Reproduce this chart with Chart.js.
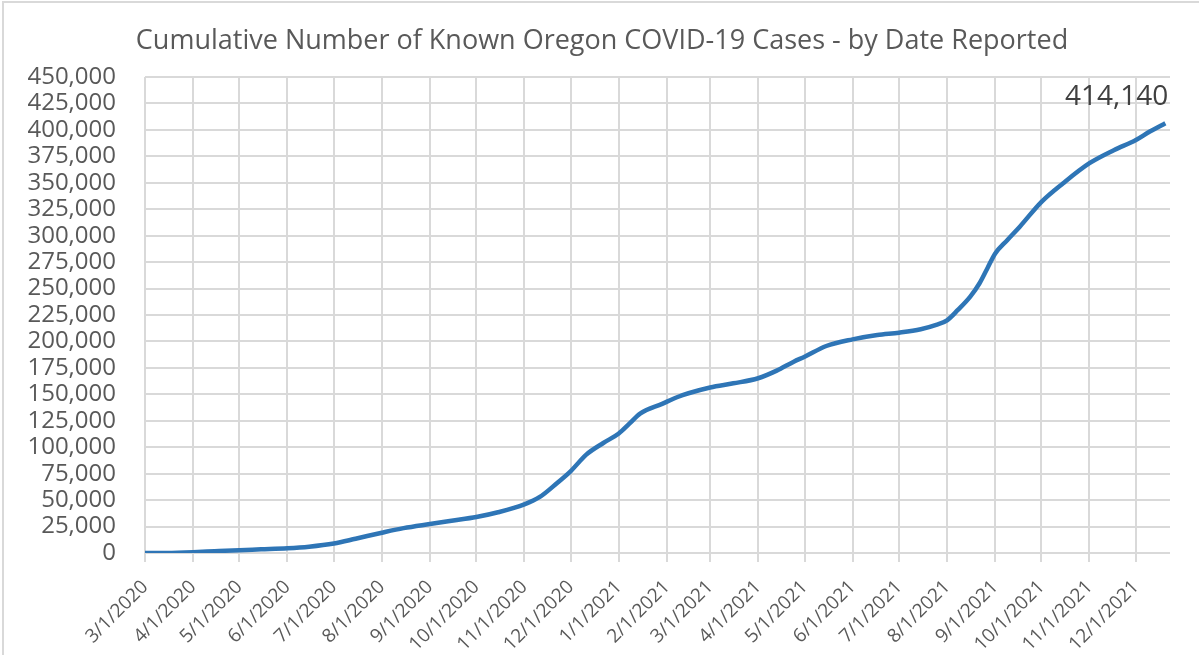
<!DOCTYPE html>
<html>
<head>
<meta charset="utf-8">
<script src="https://cdn.jsdelivr.net/npm/chart.js@4"></script>
<style>
  body { margin: 0; background: #fff; }
  #wrap { position: relative; width: 1199px; height: 655px; overflow: hidden; }
  #frame { position: absolute; left: 2px; top: 1px; width: 1300px; height: 800px;
           border: 2px solid #d9d9d9; pointer-events: none; }
</style>
</head>
<body>
<div id="wrap">
  <canvas id="casesChart" width="1199" height="655"></canvas>
  <div id="frame"></div>
</div>
<script>
// values
const dates = [
  '3/1/2020', '3/15/2020', '4/1/2020', '4/15/2020', '5/1/2020', '5/15/2020',
  '6/1/2020', '6/15/2020', '7/1/2020', '7/15/2020', '8/1/2020', '8/15/2020',
  '9/1/2020', '9/15/2020', '10/1/2020', '10/15/2020', '11/1/2020', '11/11/2020',
  '11/22/2020', '12/1/2020', '12/11/2020', '12/22/2020', '1/1/2021', '1/8/2021',
  '1/15/2021', '1/29/2021', '2/8/2021', '2/15/2021', '3/1/2021', '3/16/2021',
  '4/1/2021', '4/13/2021', '4/24/2021', '5/1/2021', '5/15/2021', '6/1/2021',
  '6/17/2021', '7/1/2021', '7/15/2021', '7/25/2021', '8/1/2021', '8/8/2021',
  '8/16/2021', '8/22/2021', '8/27/2021', '9/1/2021', '9/9/2021', '9/17/2021',
  '10/1/2021', '10/15/2021', '11/1/2021', '11/17/2021', '12/1/2021', '12/10/2021',
  '12/20/2021'
];
const cases = [
  0, 100, 800, 1700, 2700, 3500,
  4500, 6000, 9000, 13500, 19200, 23500,
  27400, 30500, 34000, 38500, 46000, 53000,
  66000, 77500, 93000, 104000, 113000, 122500,
  132000, 141000, 147500, 151000, 156500, 160400,
  165200, 172400, 180900, 185600, 195700, 202000,
  206100, 208300, 211500, 215600, 220000, 229800,
  242400, 255000, 269000, 283000, 296000, 308500,
  332000, 349600, 368500, 381000, 390500, 398500,
  406300
];
const tickLabels = [
  '3/1/2020', '4/1/2020', '5/1/2020', '6/1/2020', '7/1/2020', '8/1/2020',
  '9/1/2020', '10/1/2020', '11/1/2020', '12/1/2020', '1/1/2021', '2/1/2021',
  '3/1/2021', '4/1/2021', '5/1/2021', '6/1/2021', '7/1/2021', '8/1/2021',
  '9/1/2021', '10/1/2021', '11/1/2021', '12/1/2021'
];
const axisEnd = '12/23/2021';
const yMax = 450000;
const yStep = 25000;
const endLabel = '414,140';
const chartTitle = 'Cumulative Number of Known Oregon COVID-19 Cases - by Date Reported';

// days since the first date, so a linear x scale can stand in for a time axis
function dayNumber(s) {
  const [m, d, y] = s.split('/').map(Number);
  const [m0, d0, y0] = dates[0].split('/').map(Number);
  return Math.round((Date.UTC(y, m - 1, d) - Date.UTC(y0, m0 - 1, d0)) / 86400000);
}

const points = dates.map((d, i) => ({ x: dayNumber(d), y: cases[i] }));
const tickDays = tickLabels.map(dayNumber);

const endLabelPlugin = {
  id: 'endLabel',
  afterDatasetsDraw(chart) {
    const meta = chart.getDatasetMeta(0);
    const last = meta.data[meta.data.length - 1];
    const ctx = chart.ctx;
    ctx.save();
    ctx.font = '28px "Open Sans"';
    ctx.fillStyle = '#404040';
    ctx.textAlign = 'right';
    ctx.textBaseline = 'bottom';
    ctx.fillText(endLabel, last.x + 3, last.y - 12);
    ctx.restore();
  }
};

const ctx = document.getElementById('casesChart').getContext('2d');
const casesChart = new Chart(ctx, {
  type: 'line',
  data: {
    datasets: [{
      data: points,
      borderColor: '#2e75b6',
      borderWidth: 4.5,
      pointRadius: 0,
      cubicInterpolationMode: 'monotone',
      fill: false
    }]
  },
  options: {
    responsive: false,
    animation: false,
    layout: { padding: { left: 5, right: 0, top: 0, bottom: 0 } },
    plugins: {
      legend: { display: false },
      tooltip: { enabled: false },
      title: {
        display: true,
        text: chartTitle,
        color: '#595959',
        font: { family: 'Open Sans', size: 27, weight: 'normal' },
        padding: { top: 25.4, bottom: 19.2 }
      }
    },
    scales: {
      x: {
        type: 'linear',
        min: 0,
        max: dayNumber(axisEnd),
        afterBuildTicks: (scale) => {
          scale.ticks = tickDays.map(v => ({ value: v }));
        },
        afterFit: (scale) => { scale.height = 102; },
        grid: { color: '#d9d9d9', lineWidth: 2, drawTicks: true, tickLength: 9 },
        border: { display: false },
        ticks: {
          autoSkip: false,
          minRotation: 45,
          maxRotation: 45,
          padding: 14,
          color: '#595959',
          font: { family: 'Open Sans', size: 19 },
          callback: (value) => {
            const i = tickDays.indexOf(value);
            return i >= 0 ? tickLabels[i] : '';
          }
        }
      },
      y: {
        min: 0,
        max: yMax,
        afterFit: (scale) => { scale.width = 140; },
        grid: { color: '#d9d9d9', lineWidth: 2, drawTicks: false },
        border: { display: false },
        ticks: {
          stepSize: yStep,
          autoSkip: false,
          padding: 29,
          color: '#595959',
          font: { family: 'Open Sans', size: 24 },
          callback: (value) => value.toLocaleString('en-US')
        }
      },
      // empty spacer on the right so the plot stops short of the edge
      spacer: {
        position: 'right',
        afterFit: (scale) => { scale.width = 29; },
        grid: { drawOnChartArea: false, drawTicks: false },
        border: { display: false },
        ticks: { display: false }
      }
    }
  },
  plugins: [endLabelPlugin]
});
</script>
</body>
</html>
